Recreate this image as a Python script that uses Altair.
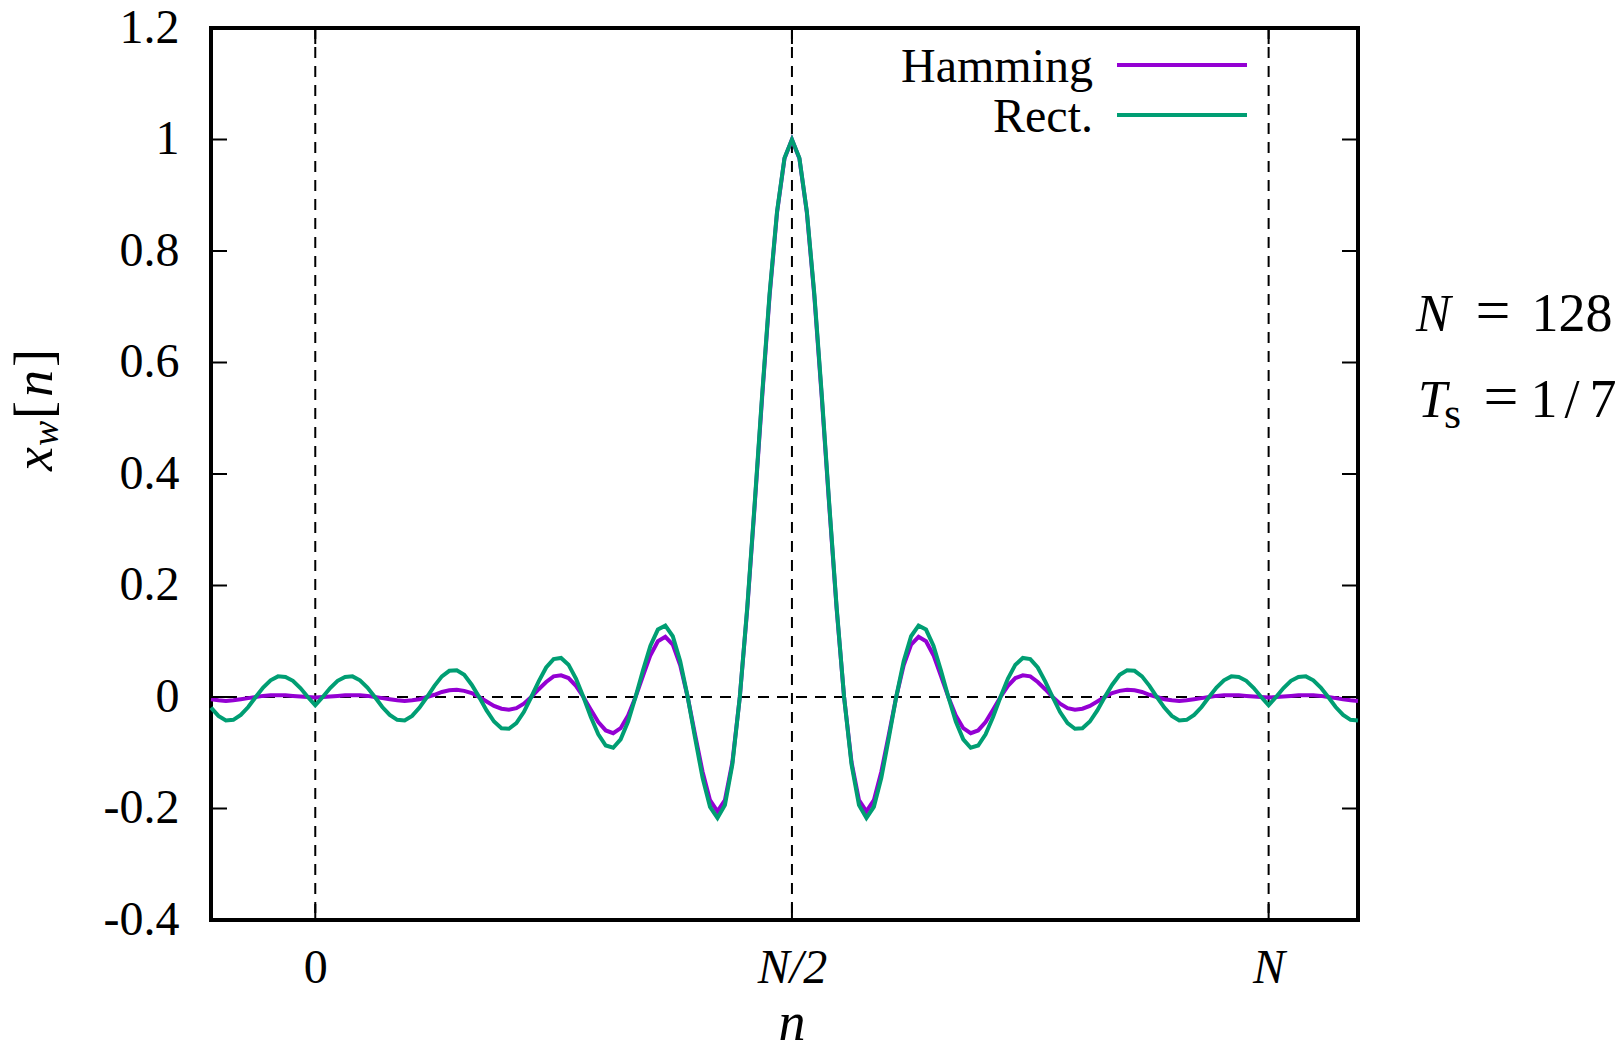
import altair as alt
import pandas as pd

# ---------------- data ----------------
n_values = list(range(-14, 141))

rect_before = [-0.019, -0.034, -0.042, -0.041, -0.032, -0.018, 0.0,
               0.017, 0.030, 0.037, 0.036, 0.029, 0.016, 0.0]
rect_left = [-0.015,
             0.0, 0.016, 0.029, 0.036, 0.037, 0.030, 0.017,
             0.0, -0.018, -0.032, -0.041, -0.042, -0.034, -0.019,
             0.0, 0.020, 0.037, 0.047, 0.048, 0.040, 0.022,
             0.0, -0.024, -0.044, -0.056, -0.057, -0.047, -0.027,
             0.0, 0.028, 0.053, 0.068, 0.070, 0.058, 0.033,
             0.0, -0.036, -0.067, -0.087, -0.091, -0.076, -0.044,
             0.0, 0.048, 0.092, 0.121, 0.128, 0.109, 0.064,
             0.0, -0.074, -0.145, -0.197, -0.217, -0.194, -0.121,
             0.0, 0.161, 0.348, 0.543, 0.724, 0.871, 0.967,
             1.0]
rect_right = [0.967, 0.871, 0.724, 0.543, 0.348, 0.161, 0.0,
              -0.121, -0.194, -0.217, -0.197, -0.145, -0.074, 0.0,
              0.064, 0.109, 0.128, 0.121, 0.092, 0.048, 0.0,
              -0.044, -0.076, -0.091, -0.087, -0.067, -0.036, 0.0,
              0.033, 0.058, 0.070, 0.068, 0.053, 0.028, 0.0,
              -0.027, -0.047, -0.057, -0.056, -0.044, -0.024, 0.0,
              0.022, 0.040, 0.048, 0.047, 0.037, 0.020, 0.0,
              -0.019, -0.034, -0.042, -0.041, -0.032, -0.018, 0.0,
              0.017, 0.030, 0.037, 0.036, 0.029, 0.016, 0.0]
rect_after = [-0.015, 0.0, 0.016, 0.029, 0.036, 0.037, 0.030, 0.017,
              0.0, -0.018, -0.032, -0.041, -0.042]

ham_before = [-0.004, -0.006, -0.007, -0.006, -0.004, -0.002, 0.0,
              0.002, 0.003, 0.003, 0.003, 0.002, 0.001, 0.0]
ham_left = [-0.001,
            0.0, 0.001, 0.002, 0.003, 0.003, 0.003, 0.002,
            0.0, -0.002, -0.004, -0.006, -0.007, -0.006, -0.004,
            0.0, 0.004, 0.009, 0.012, 0.013, 0.011, 0.007,
            0.0, -0.008, -0.016, -0.021, -0.023, -0.020, -0.012,
            0.0, 0.014, 0.027, 0.037, 0.039, 0.034, 0.020,
            0.0, -0.023, -0.045, -0.060, -0.065, -0.056, -0.033,
            0.0, 0.038, 0.075, 0.100, 0.108, 0.094, 0.057,
            0.0, -0.068, -0.134, -0.185, -0.205, -0.185, -0.117,
            0.0, 0.158, 0.344, 0.538, 0.720, 0.869, 0.966,
            1.0]
ham_right = [0.966, 0.869, 0.720, 0.538, 0.344, 0.158, 0.0,
             -0.117, -0.185, -0.205, -0.185, -0.134, -0.068, 0.0,
             0.057, 0.094, 0.108, 0.100, 0.075, 0.038, 0.0,
             -0.033, -0.056, -0.065, -0.060, -0.045, -0.023, 0.0,
             0.020, 0.034, 0.039, 0.037, 0.027, 0.014, 0.0,
             -0.012, -0.020, -0.023, -0.021, -0.016, -0.008, 0.0,
             0.007, 0.011, 0.013, 0.012, 0.009, 0.004, 0.0,
             -0.004, -0.006, -0.007, -0.006, -0.004, -0.002, 0.0,
             0.002, 0.003, 0.003, 0.003, 0.002, 0.001, 0.0]
ham_after = [-0.001, 0.0, 0.001, 0.002, 0.003, 0.003, 0.003, 0.002,
             0.0, -0.002, -0.004, -0.006, -0.007]

series_names = ["Hamming", "Rect."]
series_colors = ["#9400D3", "#009E73"]

x_ticks = [0, 64, 128]
x_tick_labels = ["0", "N/2", "N"]
y_ticks = [-0.4, -0.2, 0, 0.2, 0.4, 0.6, 0.8, 1.0, 1.2]
x_domain = [-14, 140]
y_domain = [-0.4, 1.2]
ref_x = [0, 64, 128]
ref_y = [0]

# ---------------- layout ----------------
W, H = 1147, 892
FONT = "Liberation Serif"
TICK = 16

xs = alt.Scale(domain=x_domain, nice=False, zero=False)
ys = alt.Scale(domain=y_domain, nice=False, zero=False)

ham = ham_before + ham_left + ham_right + ham_after
rect = rect_before + rect_left + rect_right + rect_after
df_h = pd.DataFrame({"n": n_values, "v": ham})
df_r = pd.DataFrame({"n": n_values, "v": rect})

x_label_expr = " : ".join(
    [f"datum.value == {v} ? '{l}'" for v, l in zip(x_ticks[1:], x_tick_labels[1:])]
) + f" : '{x_tick_labels[0]}'"

x_axis = alt.Axis(values=x_ticks, labelExpr=x_label_expr, ticks=False, domain=False,
                  grid=False, labelFont=FONT, labelFontSize=48, labelColor="black",
                  labelPadding=24, title=None, labelFlush=False, labelOverlap=False,
                  labelFontStyle={"condition": {"test": "datum.value === 0", "value": "normal"},
                                  "value": "italic"})
y_axis = alt.Axis(values=y_ticks, labelExpr="replace(format(datum.value, '.1~f'), '\u2212', '-')",
                  ticks=False, domain=False, grid=False, labelFont=FONT, labelFontSize=48,
                  labelColor="black", labelPadding=32, title=None, labelFlush=False,
                  labelOverlap=False)

XQ = dict(scale=xs, axis=x_axis)
YQ = dict(scale=ys, axis=y_axis)

dash = [11, 8]
vrules = alt.Chart(pd.DataFrame({"v": ref_x})).mark_rule(
    color="black", strokeWidth=2, strokeDash=dash).encode(
    x=alt.X("v:Q", **XQ))
hrules = alt.Chart(pd.DataFrame({"v": ref_y})).mark_rule(
    color="black", strokeWidth=2, strokeDash=dash).encode(
    y=alt.Y("v:Q", **YQ))

line_h = alt.Chart(df_h).mark_line(color=series_colors[0], strokeWidth=4).encode(
    x=alt.X("n:Q", **XQ),
    y=alt.Y("v:Q", **YQ),
)
line_r = alt.Chart(df_r).mark_line(color=series_colors[1], strokeWidth=4).encode(
    x=alt.X("n:Q", **XQ),
    y=alt.Y("v:Q", **YQ),
)

ytick_df = pd.DataFrame({"v": y_ticks})
xtick_df = pd.DataFrame({"v": x_ticks})
ticks_left = alt.Chart(ytick_df).mark_rule(color="black", strokeWidth=2).encode(
    y=alt.Y("v:Q", **YQ), x=alt.value(0), x2=alt.value(TICK))
ticks_right = alt.Chart(ytick_df).mark_rule(color="black", strokeWidth=2).encode(
    y=alt.Y("v:Q", **YQ), x=alt.value(W - TICK), x2=alt.value(W))
ticks_bottom = alt.Chart(xtick_df).mark_rule(color="black", strokeWidth=2).encode(
    x=alt.X("v:Q", **XQ), y=alt.value(H - TICK), y2=alt.value(H))
ticks_top = alt.Chart(xtick_df).mark_rule(color="black", strokeWidth=2).encode(
    x=alt.X("v:Q", **XQ), y=alt.value(0), y2=alt.value(TICK))

layers = [vrules, hrules, line_h, line_r, ticks_left, ticks_right, ticks_bottom, ticks_top]


def txt(s, x, y, size=48, style="normal", align="left", angle=0, baseline="alphabetic"):
    return alt.Chart(pd.DataFrame({"t": [s]})).mark_text(
        font=FONT, fontSize=size, fontStyle=style, align=align, baseline=baseline,
        angle=angle, color="black").encode(
        text="t:N", x=alt.value(x), y=alt.value(y))


# legend (inside, top right)
for i, (name, col) in enumerate(zip(series_names, series_colors)):
    layers.append(txt(name, 882, 54 + 50 * i, size=48, align="right"))
    layers.append(alt.Chart(pd.DataFrame({"t": [name]})).mark_rule(
        color=col, strokeWidth=4).encode(
        x=alt.value(906), x2=alt.value(1036), y=alt.value(37 + 50 * i)))

# x-axis title
layers.append(txt("n", 581, 1012, size=54, style="italic", align="center"))

# y-axis title  x_w[n]  (rotated)
layers.append(txt("x", -159, 443, size=54, style="italic", angle=270))
layers.append(txt("w", -153, 418, size=38, style="italic", angle=270))
layers.append(txt("[", -159, 391, size=54, angle=270))
layers.append(txt("n", -159, 369, size=54, style="italic", angle=270))
layers.append(txt("]", -159, 339, size=54, angle=270))

# right annotations
layers.append(txt("N", 1205, 303, size=52, style="italic"))
layers.append(txt("=", 1282, 303, size=62, align="center"))
layers.append(txt("128", 1361, 303, size=54, align="center"))
layers.append(txt("T", 1207, 389, size=52, style="italic"))
layers.append(txt("s", 1233, 400, size=44))
layers.append(txt("=", 1290, 389, size=62, align="center"))
layers.append(txt("1", 1333, 389, size=54, align="center"))
layers.append(txt("/", 1361, 389, size=54, align="center"))
layers.append(txt("7", 1392, 389, size=54, align="center"))

chart = alt.layer(*layers).properties(
    width=W, height=H,
    padding={"left": 203, "top": 20, "right": 257, "bottom": 121},
    autosize=alt.AutoSizeParams(type="none"),
    background="white",
).configure_view(stroke="black", strokeWidth=4)

chart.save("out.html", embed_options={"renderer": "svg", "actions": False})
